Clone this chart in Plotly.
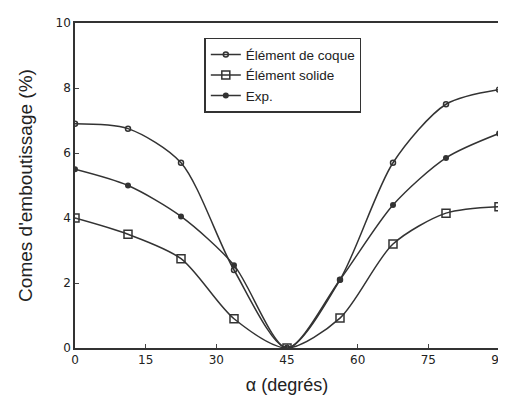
import plotly.graph_objects as go

alpha = [0, 11.25, 22.5, 33.75, 45, 56.25, 67.5, 78.75, 90]
coque = [6.9, 6.75, 5.7, 2.4, 0.0, 2.1, 5.7, 7.5, 7.95]
solide = [4.0, 3.5, 2.75, 0.9, 0.0, 0.92, 3.2, 4.15, 4.35]
exp_vals = [5.5, 5.0, 4.05, 2.55, 0.0, 2.1, 4.4, 5.85, 6.6]

x_ticks = [0, 15, 30, 45, 60, 75, 90]
y_ticks = [0, 2, 4, 6, 8, 10]

font_main = "Liberation Sans, Arial, sans-serif"

fig = go.Figure()
fig.add_trace(go.Scatter(
    x=alpha, y=coque, mode="lines+markers", name="Élément de coque",
    line=dict(color="#333", width=1.5, shape="spline", smoothing=0.8),
    marker=dict(symbol="circle-open", size=5, color="#333", line=dict(width=1.5)),
))
fig.add_trace(go.Scatter(
    x=alpha, y=solide, mode="lines+markers", name="Élément solide",
    line=dict(color="#333", width=1.5, shape="spline", smoothing=0.8),
    marker=dict(symbol="square-open", size=8, color="#333", line=dict(width=1.5)),
))
fig.add_trace(go.Scatter(
    x=alpha, y=exp_vals, mode="lines+markers", name="Exp.",
    line=dict(color="#333", width=1.5, shape="spline", smoothing=0.8),
    marker=dict(symbol="circle", size=6, color="#333"),
))

fig.update_layout(
    width=506, height=400,
    margin=dict(l=67, r=7, t=15, b=60),
    plot_bgcolor="white", paper_bgcolor="white",
    font=dict(family=font_main, color="#222"),
    showlegend=True,
    legend=dict(
        x=0.305, y=0.955, xanchor="left", yanchor="top",
        bgcolor="white", bordercolor="#333", borderwidth=1.5,
        font=dict(size=13.5, family=font_main), tracegroupgap=0,
        itemwidth=30,
    ),
    xaxis=dict(
        range=[0, 90], tickvals=x_ticks, ticks="inside", ticklen=4,
        showgrid=False, zeroline=False, showline=True, mirror=True,
        linecolor="#333", linewidth=1.5,
        tickfont=dict(size=12, family="DejaVu Sans, sans-serif"),
        title=dict(text="α (degrés)", font=dict(size=18), standoff=12),
    ),
    yaxis=dict(
        range=[0, 10], tickvals=y_ticks, ticks="inside", ticklen=4,
        showgrid=False, zeroline=False, showline=True, mirror=True,
        linecolor="#333", linewidth=1.5,
        tickfont=dict(size=12, family="DejaVu Sans, sans-serif"),
        title=dict(text="Comes d'emboutissage (%)", font=dict(size=19), standoff=18),
    ),
)

fig.write_html("out.html")
